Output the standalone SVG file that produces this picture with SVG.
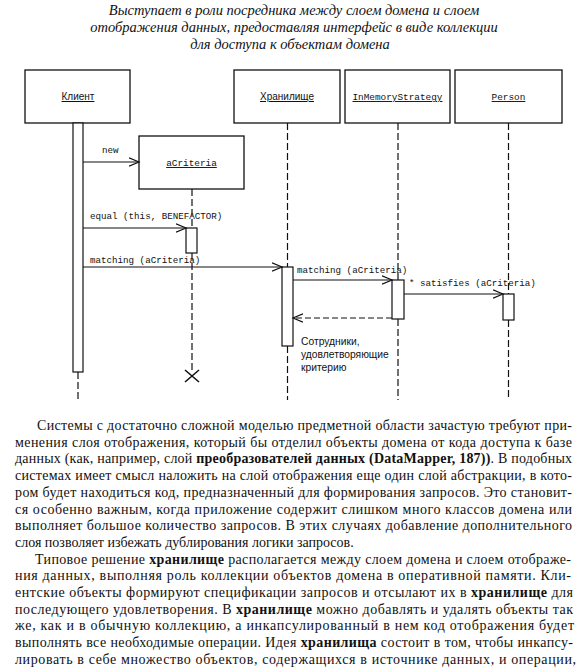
<svg xmlns="http://www.w3.org/2000/svg" width="578" height="667" viewBox="0 0 578 667">
<style>
.hdr{font-family:"Liberation Serif",serif;font-style:italic;font-size:14.5px;fill:#111;text-anchor:middle}
.box{fill:#fff;stroke:#111;stroke-width:1.3}
.act{fill:#fff;stroke:#111;stroke-width:1.2}
.life{stroke:#111;stroke-width:1.2;stroke-dasharray:7 3;fill:none}
.msg{stroke:#111;stroke-width:1.2;fill:none;marker-end:url(#open)}
.ret{stroke:#111;stroke-width:1.2;fill:none;stroke-dasharray:6 3;marker-end:url(#open)}
.mono{font-family:"Liberation Mono",monospace;font-size:9.2px;fill:#111}
.name{font-family:"Liberation Sans",sans-serif;font-size:10px;fill:#111;text-anchor:middle;text-decoration:underline}
.mname{font-family:"Liberation Mono",monospace;font-size:9.4px;fill:#111;text-anchor:middle;text-decoration:underline}
.note{font-family:"Liberation Sans",sans-serif;font-size:10.3px;fill:#111}
.body{font-family:"Liberation Serif",serif;font-size:14px;fill:#111}
.b{font-weight:bold}
</style>
<defs>
<marker id="open" markerUnits="userSpaceOnUse" markerWidth="12" markerHeight="12" refX="10" refY="5" orient="auto" viewBox="0 0 12 10">
<path d="M0,0.8 L10,5 L0,9.2" fill="none" stroke="#111" stroke-width="1.2"/>
</marker>
</defs>
<rect width="578" height="667" fill="#fff"/>

<g id="header">
<text class="hdr" x="294" y="15">Выступает в роли посредника между слоем домена и слоем</text>
<text class="hdr" x="294" y="32">отображения данных, предоставляя интерфейс в виде коллекции</text>
<text class="hdr" x="290" y="49">для доступа к объектам домена</text>
</g>

<g id="lifelines">
<line class="life" x1="78" y1="372" x2="78" y2="400"/>
<line class="life" x1="192" y1="189" x2="192" y2="228"/>
<line class="life" x1="192" y1="253" x2="192" y2="370"/>
<line class="life" x1="287.5" y1="123" x2="287.5" y2="267"/>
<line class="life" x1="287.5" y1="346" x2="287.5" y2="400"/>
<line class="life" x1="398" y1="123" x2="398" y2="280"/>
<line class="life" x1="398" y1="319" x2="398" y2="400"/>
<line class="life" x1="508.5" y1="123" x2="508.5" y2="294"/>
<line class="life" x1="508.5" y1="320" x2="508.5" y2="400"/>
</g>

<g id="client">
<rect class="box" x="25" y="70" width="105" height="53"/>
<text class="name" x="78" y="100">Клиент</text>
<rect class="act" x="73" y="123" width="10" height="249"/>
</g>

<g id="acriteria">
<rect class="box" x="139" y="136" width="105" height="53"/>
<text class="mname" x="191.5" y="166">aCriteria</text>
<rect class="act" x="186" y="228" width="11" height="25"/>
<path d="M185,370 L199,382 M199,370 L185,382" stroke="#111" stroke-width="1.6" fill="none"/>
</g>

<g id="repository">
<rect class="box" x="234" y="70" width="106" height="53"/>
<text class="name" x="287" y="100">Хранилище</text>
<rect class="act" x="282" y="267" width="11" height="79"/>
</g>

<g id="inmemory">
<rect class="box" x="345" y="70" width="105" height="53"/>
<text class="mname" x="397.5" y="100">InMemoryStrategy</text>
<rect class="act" x="392" y="280" width="12" height="39"/>
</g>

<g id="person">
<rect class="box" x="455" y="70" width="107" height="53"/>
<text class="mname" x="508.5" y="100">Person</text>
<rect class="act" x="503" y="294" width="11" height="26"/>
</g>

<g id="connectors">
<line class="msg" x1="83" y1="162" x2="139" y2="162"/>
<text class="mono" x="102" y="153">new</text>
<line class="msg" x1="83" y1="228" x2="186" y2="228"/>
<text class="mono" x="90" y="219">equal (this, BENEFACTOR)</text>
<line class="msg" x1="83" y1="267" x2="282" y2="267"/>
<text class="mono" x="90" y="263">matching (aCriteria)</text>
<line class="msg" x1="293" y1="280" x2="392" y2="280"/>
<text class="mono" x="297" y="273">matching (aCriteria)</text>
<line class="msg" x1="404" y1="294" x2="503" y2="294"/>
<text class="mono" x="409" y="286">* satisfies (aCriteria)</text>
<line class="ret" x1="392" y1="318" x2="293" y2="318"/>
<text class="note"><tspan x="301" y="345">Сотрудники,</tspan><tspan x="301" y="358">удовлетворяющие</tspan><tspan x="301" y="371">критерию</tspan></text>
</g>

<g id="body">
<text class="body" x="37" y="430" textLength="535" lengthAdjust="spacing">Системы с достаточно сложной моделью предметной области зачастую требуют при-</text>
<text class="body" x="15" y="446.7" textLength="557" lengthAdjust="spacing">менения слоя отображения, который бы отделил объекты домена от кода доступа к базе</text>
<text class="body" x="15" y="463.4" textLength="557" lengthAdjust="spacing">данных (как, например, слой <tspan class="b">преобразователей данных (DataMapper, 187))</tspan>. В подобных</text>
<text class="body" x="15" y="480.1" textLength="557" lengthAdjust="spacing">системах имеет смысл наложить на слой отображения еще один слой абстракции, в кото-</text>
<text class="body" x="15" y="496.8" textLength="557" lengthAdjust="spacing">ром будет находиться код, предназначенный для формирования запросов. Это становит-</text>
<text class="body" x="15" y="513.5" textLength="557" lengthAdjust="spacing">ся особенно важным, когда приложение содержит слишком много классов домена или</text>
<text class="body" x="15" y="530.2" textLength="557" lengthAdjust="spacing">выполняет большое количество запросов. В этих случаях добавление дополнительного</text>
<text class="body" x="15" y="546.9">слоя позволяет избежать дублирования логики запросов.</text>
<text class="body" x="35" y="563.6" textLength="536" lengthAdjust="spacing">Типовое решение <tspan class="b">хранилище</tspan> располагается между слоем домена и слоем отображе-</text>
<text class="body" x="15" y="580.3" textLength="556" lengthAdjust="spacing">ния данных, выполняя роль коллекции объектов домена в оперативной памяти. Кли-</text>
<text class="body" x="15" y="597" textLength="558" lengthAdjust="spacing">ентские объекты формируют спецификации запросов и отсылают их в <tspan class="b">хранилище</tspan> для</text>
<text class="body" x="15" y="613.7" textLength="558" lengthAdjust="spacing">последующего удовлетворения. В <tspan class="b">хранилище</tspan> можно добавлять и удалять объекты так</text>
<text class="body" x="15" y="630.4" textLength="559" lengthAdjust="spacing">же, как и в обычную коллекцию, а инкапсулированный в нем код отображения будет</text>
<text class="body" x="15" y="647.1" textLength="558" lengthAdjust="spacing">выполнять все необходимые операции. Идея <tspan class="b">хранилища</tspan> состоит в том, чтобы инкапсу-</text>
<text class="body" x="15" y="663.8" textLength="561" lengthAdjust="spacing">лировать в себе множество объектов, содержащихся в источнике данных, и операции,</text>
</g>
</svg>
